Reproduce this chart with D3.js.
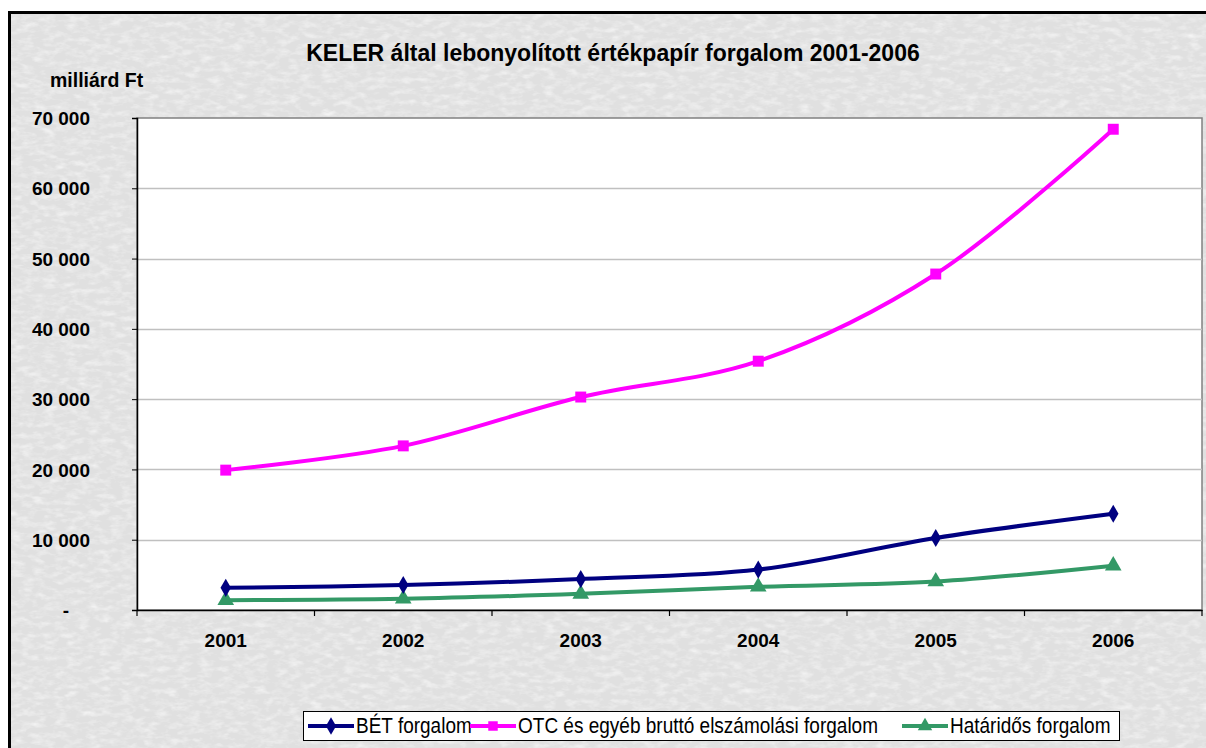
<!DOCTYPE html>
<html>
<head>
<meta charset="utf-8">
<script src="https://d3js.org/d3.v7.min.js"></script>
<style>
  body { margin: 0; background: #fff; }
  svg { display: block; font-family: Arial, "Liberation Sans", sans-serif; }
</style>
</head>
<body>
<script>
// adatok
var years = ["2001", "2002", "2003", "2004", "2005", "2006"];
var betValues = [3150, 3550, 4400, 5750, 10250, 13700];
var otcValues = [19900, 23350, 30300, 35400, 47800, 68400];
var hatValues = [1400, 1600, 2300, 3300, 4050, 6300];
var yTicks = [0, 10000, 20000, 30000, 40000, 50000, 60000, 70000];
var yTickLabels = ["-", "10 000", "20 000", "30 000", "40 000", "50 000", "60 000", "70 000"];
var seriesNames = ["BÉT forgalom", "OTC és egyéb bruttó elszámolási forgalom", "Határidős forgalom"];
var seriesColors = ["#000080", "#ff00ff", "#339966"];
var seriesShapes = [d3.symbolDiamond, d3.symbolSquare, d3.symbolTriangle];

var w = 1206, h = 748;
var pLeft = 137, pRight = 1202, pTop = 118, pBottom = 610;

var svg = d3.select("body").append("svg")
    .attr("width", w)
    .attr("height", h);

// háttér textúra
var defs = svg.append("defs");
var filt = defs.append("filter").attr("id", "paper")
    .attr("x", 0).attr("y", 0).attr("width", "100%").attr("height", "100%");
filt.append("feTurbulence").attr("type", "fractalNoise")
    .attr("baseFrequency", "0.09 0.18").attr("numOctaves", 3).attr("seed", 4).attr("result", "n");
filt.append("feColorMatrix").attr("in", "n").attr("type", "matrix")
    .attr("values", "0 0 0 0 1  0 0 0 0 1  0 0 0 0 1  0.6 0.6 0.6 0 -0.82")
    .attr("result", "m");
filt.append("feComposite").attr("in", "m").attr("in2", "SourceGraphic").attr("operator", "atop");

svg.append("rect").attr("x", 0).attr("y", 0).attr("width", w).attr("height", h).attr("fill", "#fff");
svg.append("rect")
    .attr("x", 10).attr("y", 13).attr("width", w).attr("height", h)
    .attr("fill", "#e0e0e0")
    .attr("filter", "url(#paper)");
svg.append("rect")
    .attr("x", 9.5).attr("y", 12.5).attr("width", w).attr("height", h)
    .attr("fill", "none").attr("stroke", "#000").attr("stroke-width", 3);

var x = d3.scaleBand().domain(years).range([pLeft, pRight]);
var y = d3.scaleLinear().domain([0, 70000]).range([pBottom, pTop]);

// plot terület
svg.append("rect")
    .attr("x", pLeft).attr("y", pTop)
    .attr("width", pRight - pLeft).attr("height", pBottom - pTop)
    .attr("fill", "#fff").attr("stroke", "#808080").attr("stroke-width", 1.5);

// rácsvonalak
svg.append("g").selectAll("line")
    .data(yTicks.slice(1, -1))
    .enter().append("line")
    .attr("x1", pLeft).attr("x2", pRight)
    .attr("y1", function(d){ return Math.round(y(d)) + 0.5; })
    .attr("y2", function(d){ return Math.round(y(d)) + 0.5; })
    .attr("stroke", "#c0c0c0").attr("stroke-width", 1.5);

// y tengely
var yAxis = svg.append("g")
    .attr("transform", "translate(" + pLeft + ",0)")
    .call(d3.axisLeft(y).tickValues(yTicks).tickSize(5).tickPadding(0)
        .tickFormat(function(){ return ""; }));
yAxis.select(".domain").attr("stroke", "#000").attr("stroke-width", 1.5);
yAxis.selectAll(".tick line").attr("stroke", "#000");
yAxis.selectAll(".tick").append("text")
    .attr("x", function(d, i){ return i === 0 ? -68 : -47; })
    .attr("dy", "0.35em")
    .attr("fill", "#000")
    .attr("text-anchor", "end")
    .attr("font-family", "Arial, 'Liberation Sans', sans-serif")
    .style("font-size", "19px").style("font-weight", "bold")
    .text(function(d, i){ return yTickLabels[i]; });

// x tengely
var xAxis = svg.append("g")
    .attr("transform", "translate(0," + pBottom + ")")
    .call(d3.axisBottom(x).tickSize(0).tickPadding(0).tickFormat(""));
xAxis.select(".domain").attr("stroke", "#000").attr("stroke-width", 1.5);
svg.append("g").selectAll("line")
    .data(d3.range(years.length + 1))
    .enter().append("line")
    .attr("x1", function(i){ return pLeft + i * x.bandwidth(); })
    .attr("x2", function(i){ return pLeft + i * x.bandwidth(); })
    .attr("y1", pBottom).attr("y2", pBottom + 6)
    .attr("stroke", "#000").attr("stroke-width", 1.2);
svg.append("g").selectAll("text")
    .data(years)
    .enter().append("text")
    .attr("x", function(d){ return x(d) + x.bandwidth() / 2; })
    .attr("y", 647)
    .attr("text-anchor", "middle")
    .style("font-size", "19px").style("font-weight", "bold")
    .text(function(d){ return d; });

// cím
svg.append("text")
    .attr("x", 613).attr("y", 61)
    .attr("text-anchor", "middle")
    .style("font-size", "23px").style("font-weight", "bold")
    .text("KELER által lebonyolított értékpapír forgalom 2001-2006");
svg.append("text")
    .attr("x", 50).attr("y", 87)
    .style("font-size", "19.5px").style("font-weight", "bold")
    .text("milliárd Ft");

// vonalak
var allValues = [betValues, otcValues, hatValues];
var line = d3.line()
    .x(function(d, i){ return x(years[i]) + x.bandwidth() / 2; })
    .y(function(d){ return y(d); })
    .curve(d3.curveCatmullRom.alpha(0.5));

var drawOrder = [2, 0, 1];
drawOrder.forEach(function(s){
    var g = svg.append("g");
    g.append("path")
        .datum(allValues[s])
        .attr("d", line)
        .attr("fill", "none")
        .attr("stroke", seriesColors[s])
        .attr("stroke-width", 4)
        .attr("stroke-linejoin", "round");
    g.selectAll("path.m")
        .data(allValues[s])
        .enter().append("path")
        .attr("class", "m")
        .attr("transform", function(d, i){
            return "translate(" + (x(years[i]) + x.bandwidth() / 2) + "," + y(d) + ")";
        })
        .attr("d", d3.symbol().type(seriesShapes[s]).size(s === 0 ? 95 : 120))
        .attr("fill", seriesColors[s]);
});

// jelmagyarázat
var lg = svg.append("g");
lg.append("rect")
    .attr("x", 303.5).attr("y", 711.5).attr("width", 816).attr("height", 29)
    .attr("fill", "#fff").attr("stroke", "#000").attr("stroke-width", 1);
var lx = [308, 470, 902];
seriesNames.forEach(function(name, s){
    var item = lg.append("g").attr("transform", "translate(" + lx[s] + ",726)");
    item.append("line").attr("x1", 0).attr("x2", 46)
        .attr("stroke", seriesColors[s]).attr("stroke-width", 4);
    item.append("path")
        .attr("transform", "translate(23,0)")
        .attr("d", d3.symbol().type(seriesShapes[s]).size(90))
        .attr("fill", seriesColors[s]);
    item.append("text")
        .attr("transform", "translate(48,7) scale(1,1.15)")
        .style("font-size", "19px")
        .text(name);
});
</script>
</body>
</html>
